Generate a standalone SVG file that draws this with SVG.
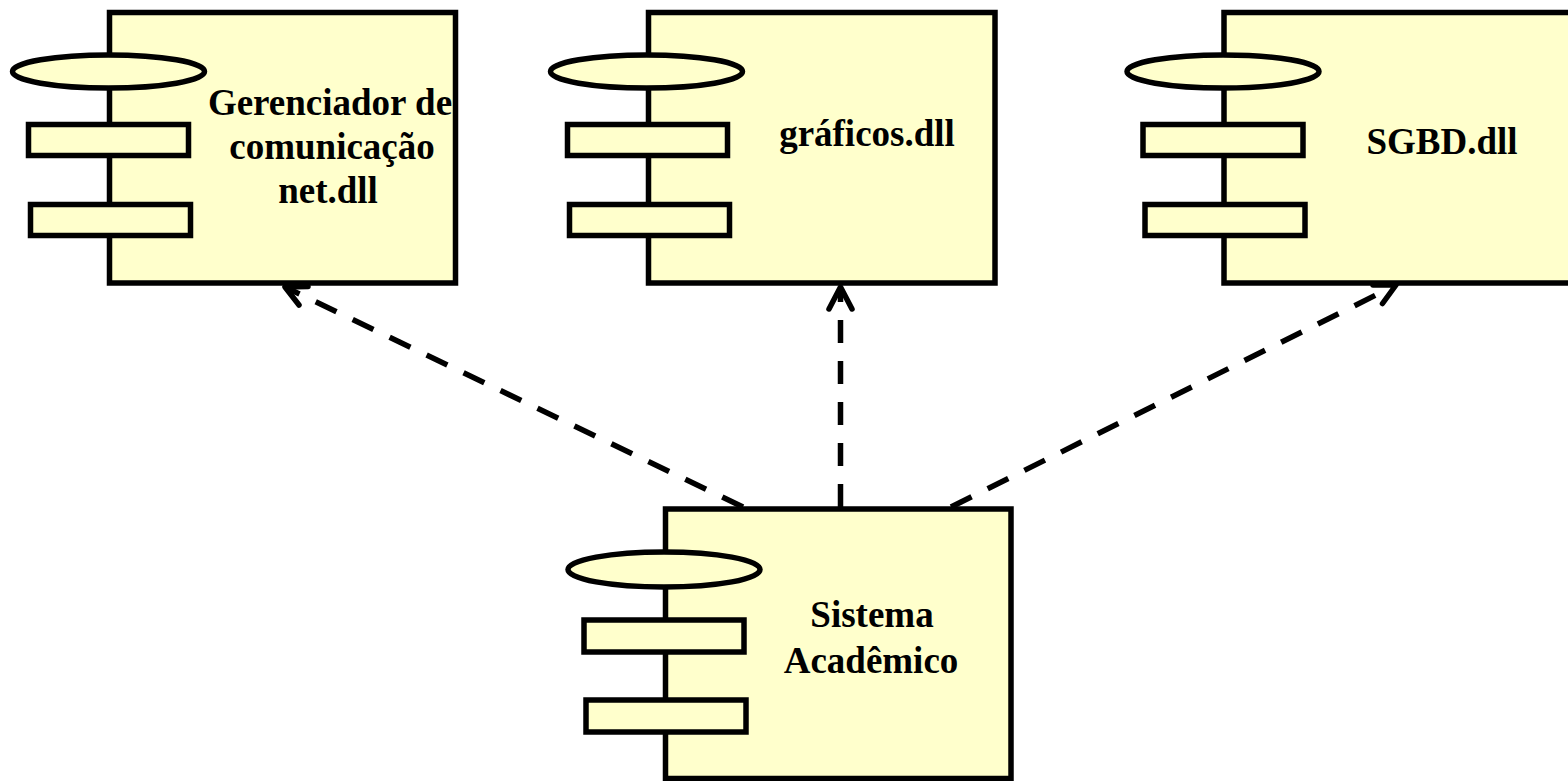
<svg xmlns="http://www.w3.org/2000/svg" width="1568" height="781" viewBox="0 0 1568 781">
<style>
.box{fill:#FFFFCC;stroke:#000;stroke-width:5.5}
.lbl{font-family:"Liberation Serif","Times New Roman",serif;font-weight:bold;font-size:37px;fill:#000;text-anchor:middle}
.dep{fill:none;stroke:#000;stroke-width:5.5;stroke-dasharray:23 18}
.head{fill:none;stroke:#000;stroke-width:5.5;stroke-linecap:round;stroke-linejoin:round}
</style>
<rect width="1568" height="781" fill="#fff"/>
<g id="net">
<rect class="box" x="109.5" y="12.5" width="346" height="270.5"/>
<ellipse class="box" cx="108.5" cy="71.5" rx="96" ry="16.5"/>
<rect class="box" x="28.5" y="124.5" width="160" height="31"/>
<rect class="box" x="30.5" y="204.5" width="160" height="31"/>
<text class="lbl" x="330" y="115">Gerenciador de</text>
<text class="lbl" x="332" y="159">comunicação</text>
<text class="lbl" x="328" y="203">net.dll</text>
</g>
<g id="graficos">
<rect class="box" x="648.5" y="12.5" width="346.5" height="270.5"/>
<ellipse class="box" cx="646.5" cy="71.5" rx="96" ry="16.5"/>
<rect class="box" x="567.5" y="124.5" width="160" height="31"/>
<rect class="box" x="569.5" y="204.5" width="160" height="31"/>
<text class="lbl" x="867" y="146">gráficos.dll</text>
</g>
<g id="sgbd">
<rect class="box" x="1224" y="12.5" width="400" height="270.5"/>
<ellipse class="box" cx="1223" cy="71.5" rx="96" ry="16.5"/>
<rect class="box" x="1143" y="124.5" width="160" height="31"/>
<rect class="box" x="1145" y="204.5" width="160" height="31"/>
<text class="lbl" x="1442" y="154">SGBD.dll</text>
</g>
<g id="sistema">
<rect class="box" x="665.5" y="509" width="345.5" height="269.5"/>
<ellipse class="box" cx="664" cy="569.5" rx="96" ry="17.5"/>
<rect class="box" x="584" y="620" width="160" height="32"/>
<rect class="box" x="586" y="700" width="160" height="32"/>
<text class="lbl" x="872" y="627">Sistema</text>
<text class="lbl" x="871" y="673">Acadêmico</text>
</g>
<g id="connectors">
<line class="dep" x1="743" y1="507" x2="287" y2="288"/>
<polyline class="head" points="299,305 285,287 308,286.5"/>
<line class="dep" x1="840.5" y1="507" x2="840.5" y2="289"/>
<polyline class="head" points="829,309 840.5,287 852,309"/>
<line class="dep" x1="951" y1="507" x2="1394" y2="286"/>
<polyline class="head" points="1382.5,303.5 1396,285 1373,285"/>
</g>
</svg>
